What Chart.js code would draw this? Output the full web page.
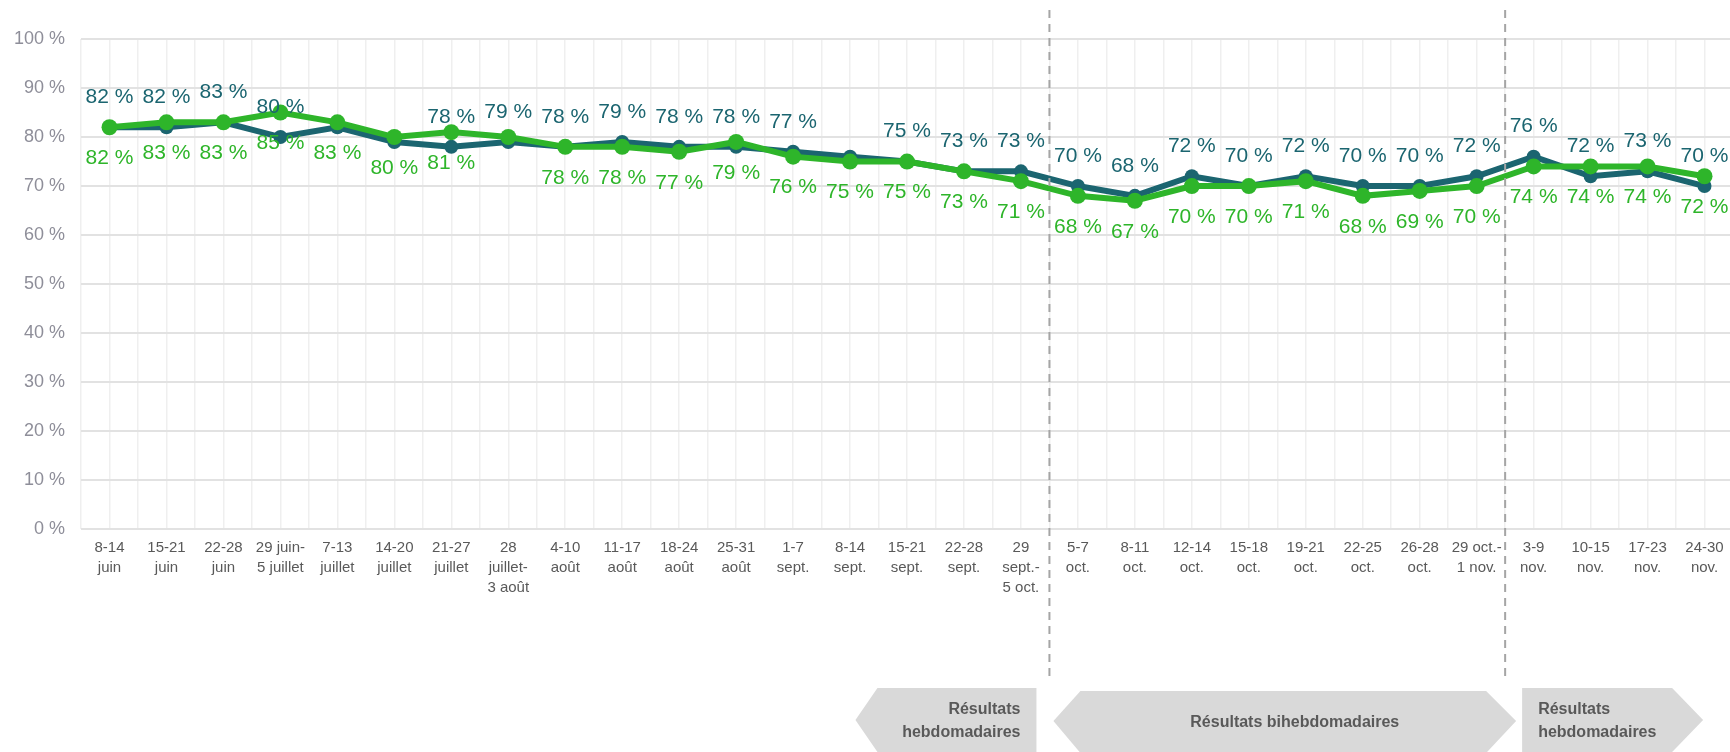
<!DOCTYPE html>
<html lang="fr">
<head>
<meta charset="utf-8">
<title>Résultats</title>
<script src="https://cdn.jsdelivr.net/npm/chart.js@4/dist/chart.umd.min.js"></script>
<style>
  html, body { margin: 0; background: #fff; overflow: hidden; }
  #wrap { width: 1733px; height: 752px; }
</style>
</head>
<body>
<div id="wrap"><canvas id="my_chart"></canvas></div>
<script>
// categories (multi-line tick labels)
var weeks = [
    ['8-14', 'juin'], ['15-21', 'juin'], ['22-28', 'juin'], ['29 juin-', '5 juillet'],
    ['7-13', 'juillet'], ['14-20', 'juillet'], ['21-27', 'juillet'], ['28', 'juillet-', '3 août'],
    ['4-10', 'août'], ['11-17', 'août'], ['18-24', 'août'], ['25-31', 'août'],
    ['1-7', 'sept.'], ['8-14', 'sept.'], ['15-21', 'sept.'], ['22-28', 'sept.'],
    ['29', 'sept.-', '5 oct.'], ['5-7', 'oct.'], ['8-11', 'oct.'], ['12-14', 'oct.'],
    ['15-18', 'oct.'], ['19-21', 'oct.'], ['22-25', 'oct.'], ['26-28', 'oct.'],
    ['29 oct.-', '1 nov.'], ['3-9', 'nov.'], ['10-15', 'nov.'], ['17-23', 'nov.'], ['24-30', 'nov.']
]

var tealValues = [82, 82, 83, 80, 82, 79, 78, 79, 78, 79, 78, 78, 77, 76, 75, 73, 73,
                  70, 68, 72, 70, 72, 70, 70, 72, 76, 72, 73, 70]
var greenValues = [82, 83, 83, 85, 83, 80, 81, 80, 78, 78, 77, 79, 76, 75, 75, 73, 71,
                   68, 67, 70, 70, 71, 68, 69, 70, 74, 74, 74, 72]

// points whose value label is not shown in the original
var tealNoLabel = [4, 5, 13]
var greenNoLabel = [7]

var yTicks = [0, 10, 20, 30, 40, 50, 60, 70, 80, 90, 100]

// period separators (between these category indexes) and banner texts
var separators = [16.5, 24.5]
var bannerTexts = [['Résultats', 'hebdomadaires'], ['Résultats bihebdomadaires'], ['Résultats', 'hebdomadaires']]

var TEAL = '#1b6570'
var GREEN = '#2eb52a'

// value labels above (teal) / below (green) each point
var valueLabels = {
    id: 'valueLabels',
    afterDatasetsDraw(chart) {
        var c = chart.ctx
        c.save()
        c.font = '21px "Liberation Sans", Arial, sans-serif'
        c.textAlign = 'center'
        c.textBaseline = 'middle'
        chart.data.datasets.forEach((ds, di) => {
            var meta = chart.getDatasetMeta(di)
            meta.data.forEach((pt, i) => {
                if (ds.noLabel.indexOf(i) >= 0) return
                c.fillStyle = ds.borderColor
                c.fillText(ds.data[i] + ' %', pt.x, pt.y + ds.labelShift)
            })
        })
        c.restore()
    }
}

// dashed separators and the grey banners under the axis
var periods = {
    id: 'periods',
    afterDraw(chart) {
        var c = chart.ctx
        var x = chart.scales.x
        var d1 = x.getPixelForValue(separators[0])
        var d2 = x.getPixelForValue(separators[1])
        c.save()
        c.strokeStyle = '#a5a5a5'
        c.lineWidth = 2
        c.setLineDash([8, 6])
        ;[d1, d2].forEach(d => {
            c.beginPath()
            c.moveTo(d, 10)
            c.lineTo(d, 678)
            c.stroke()
        })
        c.setLineDash([])

        var top = 688, bot = 752, mid = 720
        c.fillStyle = '#d9d9d9'
        // left-pointing
        var a1l = d1 - 194, a1r = d1 - 13
        c.beginPath()
        c.moveTo(a1l, mid); c.lineTo(a1l + 22, top); c.lineTo(a1r, top)
        c.lineTo(a1r, bot); c.lineTo(a1l + 22, bot); c.closePath(); c.fill()
        // two-sided
        var a2l = d1 + 4, a2r = d2 + 11
        c.beginPath()
        c.moveTo(a2l, mid + 1); c.lineTo(a2l + 27, top + 3); c.lineTo(a2r - 30, top + 3)
        c.lineTo(a2r, mid + 1); c.lineTo(a2r - 30, bot + 1); c.lineTo(a2l + 27, bot + 1)
        c.closePath(); c.fill()
        // right-pointing
        var a3l = d2 + 17, a3r = d2 + 198
        c.beginPath()
        c.moveTo(a3l, top); c.lineTo(a3r - 31, top); c.lineTo(a3r, mid)
        c.lineTo(a3r - 31, bot); c.lineTo(a3l, bot); c.closePath(); c.fill()

        c.fillStyle = '#595959'
        c.font = 'bold 16px "Liberation Sans", Arial, sans-serif'
        c.textBaseline = 'middle'
        c.textAlign = 'right'
        c.fillText(bannerTexts[0][0], a1r - 16, mid - 10)
        c.fillText(bannerTexts[0][1], a1r - 16, mid + 13)
        c.textAlign = 'center'
        c.fillText(bannerTexts[1][0], (a2l + a2r) / 2 + 10, mid + 3)
        c.textAlign = 'left'
        c.fillText(bannerTexts[2][0], a3l + 16, mid - 10)
        c.fillText(bannerTexts[2][1], a3l + 16, mid + 13)
        c.restore()
    }
}

var ctx = document.getElementById('my_chart')
var my_chart = new Chart(ctx, {
    type: 'line',
    data: {
        labels: weeks,
        datasets: [
            {
                label: 'A',
                data: tealValues,
                borderColor: TEAL,
                backgroundColor: TEAL,
                borderWidth: 6,
                pointRadius: 7,
                pointBorderWidth: 0,
                tension: 0,
                order: 1,
                noLabel: tealNoLabel,
                labelShift: -30
            },
            {
                label: 'B',
                data: greenValues,
                borderColor: GREEN,
                backgroundColor: GREEN,
                borderWidth: 6,
                pointRadius: 8,
                pointBorderWidth: 0,
                tension: 0,
                order: 0,
                noLabel: greenNoLabel,
                labelShift: 31
            }
        ]
    },
    options: {
        responsive: true,
        maintainAspectRatio: false,
        animation: false,
        layout: { autoPadding: false, padding: { top: 39, left: -2, right: 0, bottom: 145 } },
        plugins: {
            legend: { display: false },
            tooltip: { enabled: false }
        },
        scales: {
            x: {
                offset: true,
                border: { display: false },
                grid: { offset: false, color: '#efefef', lineWidth: 1.5, drawTicks: false },
                afterFit(scale) {
                    scale.paddingRight = 0
                },
                ticks: {
                    padding: 9,
                    maxRotation: 0,
                    autoSkip: false,
                    color: '#595959',
                    font: { family: '"Liberation Sans", Arial, sans-serif', size: 15, lineHeight: 1.33 }
                }
            },
            x2: {
                offset: true,
                position: 'bottom',
                border: { display: false },
                grid: { offset: true, color: '#efefef', lineWidth: 1.5, drawTicks: false },
                ticks: { display: false }
            },
            y: {
                min: 0,
                max: 100,
                border: { display: false },
                grid: { color: '#e2e2e2', lineWidth: 2, drawTicks: false },
                afterBuildTicks(scale) {
                    scale.ticks = yTicks.map(v => ({ value: v }))
                },
                ticks: {
                    padding: 16,
                    color: '#8e8e99',
                    font: { family: '"Liberation Sans", Arial, sans-serif', size: 18 },
                    callback: v => v + ' %'
                }
            }
        }
    },
    plugins: [valueLabels, periods]
})
</script>
</body>
</html>
